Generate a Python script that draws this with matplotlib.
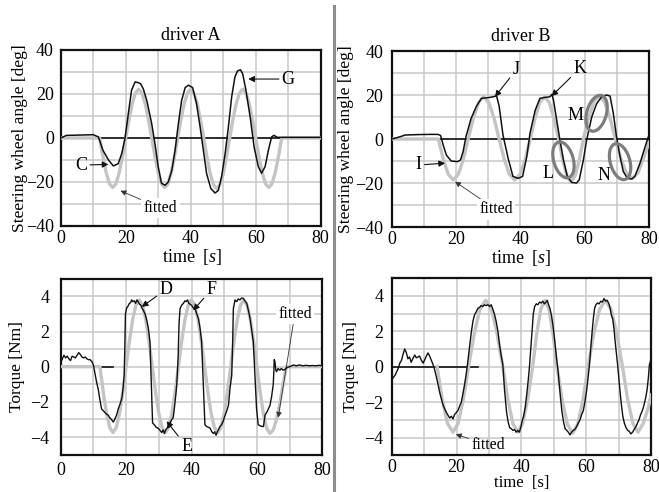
import matplotlib
matplotlib.use('Agg')
import matplotlib.pyplot as plt
from matplotlib.patches import Ellipse
from matplotlib.lines import Line2D

plt.rcParams['font.family'] = 'Liberation Serif'
plt.rcParams['mathtext.fontset'] = 'custom'
plt.rcParams['mathtext.rm'] = 'Liberation Serif'
plt.rcParams['mathtext.it'] = 'Liberation Serif:italic'

BLACK = '#111111'
FIT = '#c4c4c4'
GRID = '#c8c8c8'

# ---- driver A, steering wheel angle [deg]
tA_steer = [0, 1.8, 5, 10, 11.6, 13, 14.7, 16.2, 17.7, 18.8, 19.8, 20.8, 21.8, 22.9, 23.8,
            24.6, 25.4, 26.5, 28, 29, 30, 31, 32.1, 33.1, 34.2, 35.2, 36.2, 37.2, 38.3,
            39.3, 40.6, 41.8, 42.9, 43.9, 44.9, 46.2, 47.5, 48.5, 49.5, 50.6, 51.6, 52.6,
            53.6, 54.4, 55.3, 56, 57, 58.3, 59.5, 60.8, 61.8, 62.9, 63.9, 64.9, 65.6,
            66.7, 80]
vA_steer = [0, 1.2, 1.3, 1.5, 0.5, -5.6, -10, -12.7, -11.7, -7, 0, 11, 21.7, 25.5, 25.2,
            24.6, 22.4, 17, 6.5, -2.6, -13, -20.5, -21.5, -20, -14.7, -5.6, 6.5, 17, 22.9,
            24, 22.9, 15.6, 5, -5.6, -16.2, -23, -25, -23.8, -17.7, -7, 5, 18.6,
            27.7, 30.5, 31, 29.2, 21.7, 9.5, -4, -13, -16, -13, -5.6, 0.5, 1.2,
            0.3, 0.3]

tA_steer_fit = [0] + list(range(12, 69)) + [80]
vA_steer_fit = [0,
                0, -8.5, -15.8, -20.8, -22.5, -20.8, -15.8, -8.5,
                0, 8.4, 15.6, 20.4, 22.2, 20.4, 15.6, 8.4,
                0, -8.5, -15.8, -20.8, -22.5, -20.8, -15.8, -8.5,
                0, 8.4, 15.6, 20.4, 22.2, 20.4, 15.6, 8.4,
                0, -8.7, -16.2, -21.2, -23, -21.2, -16.2, -8.7,
                0, 8.4, 15.6, 20.4, 22.2, 20.4, 15.6, 8.4,
                0, -8.5, -15.8, -20.8, -22.5, -20.8, -15.8, -8.5,
                0, 0]

# ---- driver A, torque [Nm]
tA_torque = [0, 0.5, 1.0, 1.5, 2.0, 2.5, 3.0, 3.5, 4.0, 4.5, 5.0, 5.5, 6.0, 6.5, 7.0, 7.5,
             8.0, 8.5, 9.0, 9.5, 10.0, 10.5, 11.0, 11.5, 12.0, 12.5, 13.0, 13.5, 14.0, 14.5,
             15.0, 15.5, 16.1, 16.5, 17.1, 17.6, 18.2, 18.7, 19.1, 19.4, 19.6, 19.8, 20.2,
             20.6, 21.0, 21.4, 21.7, 22.1, 22.5, 22.9, 23.3, 23.7, 24.1, 24.5, 24.8, 25.3,
             25.8, 26.3, 26.8, 27.3, 27.7, 28.1, 28.6, 29.2, 29.8, 30.3, 30.9, 31.3, 31.7,
             32.1, 32.5, 32.9, 33.4, 34.0, 34.4, 34.8, 35.2, 35.5, 35.9, 36.2, 36.5, 37.0,
             37.5, 38.0, 38.4, 38.8, 39.2, 39.6, 40.0, 40.5, 41.1, 41.6, 42.1, 42.6, 43.1,
             43.6, 44.1, 44.6, 45.2, 45.7, 46.2, 46.7, 47.1, 47.5, 47.9, 48.2, 48.7, 49.2,
             49.7, 50.2, 50.8, 51.3, 51.8, 52.3, 52.6, 52.8, 53.3, 53.8, 54.3, 54.8, 55.3,
             55.8, 56.3, 56.9, 57.4, 57.9, 58.4, 58.9, 59.4, 59.9, 60.4, 60.9, 61.5, 62.0,
             62.3, 62.5, 63.0, 63.5, 64.0, 64.5, 65.0, 65.2, 65.3, 65.5, 65.8, 66.0, 66.5,
             67.0, 67.5, 68.0, 68.6, 69.2, 70.0, 70.6, 71.2, 72.0, 73.0, 74.0, 75.0, 76.0,
             77.0, 78.0, 79.0, 80.0]
vA_torque = [0.2, 0.45, 0.65, 0.5, 0.6, 0.45, 0.35, 0.6, 0.55, 0.5, 0.65, 0.8, 0.7, 0.55,
             0.5, 0.55, 0.45, 0.4, 0.4, 0.3, 0.1, -0.4, -0.9, -1.3, -1.9, -2.4, -2.5, -2.6,
             -2.7, -2.75, -2.9, -3.0, -3.15, -3.0, -2.75, -2.4, -2.1, -1.8, -1.2, -0.5, 1.0,
             3.0, 3.35, 3.45, 3.6, 3.65, 3.8, 3.7, 3.75, 3.6, 3.8, 3.7, 3.55, 3.5, 3.35, 3.2,
             3.0, 2.65, 2.2, 1.4, -1.0, -3.2, -3.3, -3.45, -3.5, -3.6, -3.75, -3.6, -3.8,
             -3.6, -3.5, -3.35, -3.2, -3.0, -2.9, -2.3, -1.6, -1.0, 0.5, 2.5, 3.3, 3.5, 3.6,
             3.75, 3.7, 3.8, 3.6, 3.55, 3.5, 3.35, 3.3, 3.0, 2.75, 2.2, 1.4, -1.0, -3.3,
             -3.4, -3.45, -3.5, -3.7, -3.8, -3.7, -3.9, -3.7, -3.6, -3.4, -3.3, -3.1, -2.8,
             -2.5, -2.2, -1.2, -0.5, 1.5, 3.3, 3.8, 3.7, 3.85, 3.8, 3.9, 3.9, 3.75, 3.6, 3.2,
             2.75, 2.1, 1.4, -0.5, -2.4, -3.3, -3.35, -3.4, -3.4, -3.0, -2.75, -2.6, -2.4,
             -2.2, -1.7, -1.0, -0.2, 0.4, 0.3, -0.2, -0.28, -0.1, -0.2, -0.1, -0.2, -0.15,
             -0.05, 0.0, 0.05, 0.1, 0.05, 0.1, 0.05, 0.08, 0.05, 0.07, 0.05, 0.08, 0.05]

tA_torque_fit = [0] + list(range(11, 70)) + [80]
vA_torque_fit = [0,
                 0, 0, -1.43, -2.65, -3.46, -3.75, -3.46, -2.65, -1.43,
                 0, 1.45, 2.68, 3.5, 3.8, 3.5, 2.68, 1.45,
                 0, -1.43, -2.65, -3.46, -3.75, -3.46, -2.65, -1.43,
                 0, 1.45, 2.68, 3.5, 3.8, 3.5, 2.68, 1.45,
                 0, -1.43, -2.65, -3.46, -3.75, -3.46, -2.65, -1.43,
                 0, 1.45, 2.68, 3.5, 3.8, 3.5, 2.68, 1.45,
                 0, -1.45, -2.7, -3.5, -3.8, -3.6, -3.0, -2.1, -1.0, 0,
                 0]

# ---- driver B, steering wheel angle [deg]
tB_steer = [0, 1.6, 3, 4.1, 8, 12, 14.4, 15.2, 16, 17, 18.5, 20.5, 21.4, 22.2, 23.1, 24.7,
            26.3, 27.9, 30, 31.6, 32.6, 33.4, 34.6, 36.2, 37.7, 39.3, 40.7, 42, 43, 44.6,
            46.1, 48.2, 49.2, 49.8, 50.3, 51.3, 52.3, 53.4, 54.6, 56, 57.5, 58.3, 59.6,
            60.6, 62.2, 63.7, 65.3, 66.8, 67.9, 68.9, 69.9, 71, 72, 73.3, 74.6, 75.6,
            77.2, 78.8, 79.8]
vB_steer = [0, 0.6, 1.2, 1.8, 2.0, 2.1, 2.1, 1.6, -2.7, -7.3, -10, -10.3, -9.5, -5.7, 1.1,
            9.4, 14.7, 18.5, 18.8, 19.2, 19.6, 15, 1.8, -8.8, -17, -17.9, -17, -8, 2.6, 13,
            18.5, 19, 19.2, 20.3, 17.7, 8.6, -0.5, -9.5, -17, -19.8, -20, -18.6, -9.5,
            -0.5, 10, 16, 19.2, 20, 19.5, 11.7, 1, -8, -14.8, -17.9, -18.2, -17,
            -11, -3.5, 1]

tB_steer_fit = [0, 14.5, 16.05, 17.6, 19.15, 20.7, 22.25, 23.8, 25.4, 27.0, 28.6, 30.2,
                31.8, 33.4, 35.0, 36.6, 38.25, 39.9, 41.5, 43.1, 44.6, 46.0, 47.5, 49.0,
                50.4, 51.9, 53.2, 54.5, 55.75, 57.0, 58.3, 59.6, 61.25, 62.9, 64.55,
                66.2, 67.85, 69.5, 71.25, 73.0, 74.75, 76.5, 78.25, 80]
vB_steer_fit = [0, 0, -9.3, -16.1, -18.6, -16.1, -9.3, 0, 9.6, 16.6, 19.2, 16.6,
                9.6, 0, -9.3, -16.1, -18.6, -16.1, -9.3, 0, 9.6, 16.6, 19.2, 16.6,
                9.6, 0, -9.75, -16.9, -19.5, -16.9, -9.75, 0, 9.75, 16.9, 19.5,
                16.9, 9.75, 0, -9, -15.6, -18, -15.6, -9, -1.5]

# ---- driver B, torque [Nm]
tB_torque = [0, 0.5, 1.0, 1.5, 2.0, 2.5, 3.0, 3.5, 4.0, 4.5, 5.0, 5.5, 6.0, 6.5, 7.1, 7.6,
             8.1, 8.6, 9.2, 9.7, 10.2, 10.7, 11.2, 11.7, 12.2, 12.7, 13.3, 13.8, 14.3, 14.8,
             15.3, 15.9, 16.4, 16.9, 17.4, 17.9, 18.4, 18.9, 19.4, 19.9, 20.5, 21.0, 21.5,
             22.0, 22.5, 23.0, 23.5, 24.0, 24.6, 25.1, 25.6, 26.1, 26.6, 27.1, 27.6, 28.1,
             28.6, 29.1, 29.7, 30.2, 30.7, 31.3, 31.8, 32.3, 32.8, 33.3, 33.8, 34.3, 34.8,
             35.4, 35.9, 36.4, 36.9, 37.4, 37.9, 38.4, 38.9, 39.4, 39.8, 40.2, 40.7, 41.2,
             41.7, 42.1, 42.5, 42.9, 43.3, 43.7, 44.1, 44.6, 45.1, 45.6, 46.1, 46.6, 47.1,
             47.6, 48.0, 48.4, 48.8, 49.3, 49.7, 50.1, 50.5, 50.9, 51.3, 51.7, 52.1, 52.5,
             53.0, 53.5, 54.0, 54.5, 55.0, 55.5, 56.0, 56.5, 57.0, 57.5, 58.1, 58.6, 59.1,
             59.6, 60.1, 60.6, 61.0, 61.4, 61.8, 62.2, 62.6, 63.0, 63.5, 64.0, 64.5, 65.0,
             65.5, 66.0, 66.5, 67.0, 67.4, 67.8, 68.2, 68.6, 68.9, 69.3, 69.7, 70.1, 70.5,
             70.9, 71.3, 71.8, 72.3, 72.8, 73.3, 73.8, 74.3, 74.8, 75.3, 75.8, 76.3, 76.8,
             77.3, 77.8, 78.3, 78.8, 79.2, 79.5, 79.8]
vB_torque = [-0.8, -0.6, -0.5, -0.3, -0.1, 0.2, 0.35, 0.7, 1.0, 0.8, 0.45, 0.55, 0.25, 0.45,
             0.66, 0.5, 0.55, 0.6, 0.35, 0.2, 0.4, 0.6, 0.78, 0.6, 0.38, 0.15, -0.2, -0.6,
             -1.0, -1.45, -1.8, -2.2, -2.4, -2.6, -2.75, -2.9, -2.8, -2.95, -2.7, -2.6,
             -2.45, -2.2, -2.0, -1.5, -1.0, -0.4, 0.3, 1.1, 2.0, 2.6, 2.95, 3.1, 3.3, 3.35,
             3.45, 3.4, 3.5, 3.45, 3.5, 3.4, 3.5, 3.2, 2.9, 2.5, 1.95, 1.2, 0.6, 0.1, -1.3,
             -2.5, -3.1, -3.45, -3.5, -3.6, -3.55, -3.7, -3.6, -3.7, -3.45, -3.1, -2.8,
             -2.3, -1.5, -0.8, 0.0, 1.0, 2.0, 3.0, 3.4, 3.55, 3.5, 3.65, 3.6, 3.7, 3.55,
             3.65, 3.75, 3.5, 3.3, 2.9, 2.4, 1.8, 1.1, 0.4, -0.2, -1.0, -1.8, -2.5,
             -3.1, -3.5, -3.6, -3.7, -3.85, -3.7, -3.6, -3.55, -3.4, -3.2, -3.0, -2.7, -2.5,
             -2.0, -1.4, -0.6, 0.1, 1.0, 1.9, 2.7, 3.3, 3.5, 3.6, 3.55, 3.7, 3.65,
             3.85, 3.7, 3.75, 3.55, 3.3, 2.9, 2.7, 2.1, 1.5, 0.8, 0.1, -0.7, -1.5,
             -2.2, -2.8, -3.2, -3.45, -3.6, -3.65, -3.8, -3.7, -3.55, -3.4, -3.2, -3.0, -2.7,
             -2.5, -2.2, -1.8, -1.3, -0.6, 0.1, 0.3]

tB_torque_fit = [14, 15.6, 17.2, 18.9, 20.5, 22.1, 23.7, 25.5, 27.2, 29.0, 30.8, 32.5,
                 34.3, 35.85, 37.35, 38.9, 40.4, 41.95, 43.5, 44.75, 46.0, 47.25, 48.5,
                 49.75, 51.0, 52.6, 54.2, 55.8, 57.4, 59.0, 60.6, 62.35, 64.15, 65.9,
                 67.65, 69.45, 71.2, 72.8, 74.4, 76.0, 77.6, 79.2, 80]
vB_torque_fit = [0, -1.85, -3.2, -3.7, -3.2, -1.85, 0, 1.88, 3.25, 3.75, 3.25, 1.88,
                 0, -1.85, -3.2, -3.7, -3.2, -1.85, 0, 1.88, 3.25, 3.75, 3.25,
                 1.88, 0, -1.88, -3.25, -3.75, -3.25, -1.88, 0, 1.88, 3.25, 3.75,
                 3.25, 1.88, 0, -1.85, -3.2, -3.7, -3.2, -2.3, -1.6]

W, H = 659, 492
fig = plt.figure(figsize=(W / 100, H / 100), dpi=100)


def px_axes(left, top, right, bottom):
    return fig.add_axes([left / W, 1 - bottom / H, (right - left) / W, (bottom - top) / H])


def style(ax, ylim, yminor, ypad, xpad):
    ax.set_xlim(0, 80)
    ax.set_ylim(*ylim)
    ax.set_xticks([0, 20, 40, 60, 80])
    ax.set_xticks(range(0, 81, 10), minor=True)
    ax.set_yticks(yminor, minor=True)
    ax.grid(True, which='both', color=GRID, lw=1.1)
    ax.set_axisbelow(True)
    ax.tick_params(which='both', length=0, labelsize=13)
    ax.tick_params(axis='y', pad=ypad)
    ax.tick_params(axis='x', pad=xpad)
    for s in ax.spines.values():
        s.set_linewidth(1.6)
        s.set_color(BLACK)


arw = dict(arrowstyle='-|>', color=BLACK, lw=0.8, mutation_scale=9, shrinkA=0, shrinkB=0)
arw_fit = dict(arrowstyle='-|>', color='#333333', lw=0.6, mutation_scale=8, shrinkA=0, shrinkB=0)
white = dict(boxstyle='square,pad=0.15', fc='white', ec='none')

# ---------------- top-left
ax = px_axes(60.7, 50, 320.7, 226)
style(ax, (-40, 40), range(-40, 41, 10), 5, 3)
ax.set_yticks([-40, -20, 0, 20, 40])
ax.axhline(0, color=BLACK, lw=1.2, zorder=2)
ax.plot(tA_steer_fit, vA_steer_fit, color=FIT, lw=2.4, zorder=3)
ax.plot(tA_steer, vA_steer, color=BLACK, lw=1.1, zorder=4)
ax.set_title('driver A', fontsize=13, pad=7)
ax.set_ylabel('Steering wheel angle [deg]', fontsize=12.5)
ax.yaxis.set_label_coords(-0.126, 0.5)
ax.set_xlabel(r'time  [$\mathit{s}$]', fontsize=13)
ax.xaxis.set_label_coords(0.505, -0.118)
ax.annotate('G', xy=(57.7, 26.8), xytext=(68, 26.8), fontsize=13, va='center', arrowprops=arw)
ax.annotate('C', xy=(14.7, -12), xytext=(4.5, -12.3), fontsize=13, va='center', arrowprops=arw)
ax.annotate('fitted', xy=(18.4, -24), xytext=(30.7, -31.8), fontsize=11.5, va='center',
            ha='center', bbox=white, arrowprops=arw_fit)

# ---------------- top-right
ax = px_axes(391.7, 51, 649, 227)
style(ax, (-40, 40), range(-40, 41, 10), 6, 3)
ax.set_yticks([-40, -20, 0, 20, 40])
ax.axhline(0, color=BLACK, lw=1.2, zorder=2)
ax.plot(tB_steer_fit, vB_steer_fit, color=FIT, lw=2.4, zorder=3)
ax.plot(tB_steer, vB_steer, color=BLACK, lw=1.1, zorder=4)
ax.set_title('driver B', fontsize=13, pad=7)
ax.set_ylabel('Steering wheel angle [deg]', fontsize=12.5)
ax.yaxis.set_label_coords(-0.148, 0.5)
ax.set_xlabel(r'time  [$\mathit{s}$]', fontsize=13)
ax.xaxis.set_label_coords(0.505, -0.122)
for cx, cy, ang in [(53.4, -9.5, 9), (63.7, 11.7, -9), (71, -10.3, 9)]:
    ax.add_patch(Ellipse((cx, cy), 6.2, 16.5, angle=ang, fill=False, ec='#7d7d7d', lw=2.3, zorder=5))
ax.text(57, 10.9, 'M', fontsize=13, ha='center', va='center')
ax.text(48.7, -15.6, 'L', fontsize=13, ha='center', va='center')
ax.text(66.1, -16.4, 'N', fontsize=13, ha='center', va='center')
ax.annotate('J', xy=(32.1, 19.2), xytext=(37.6, 31.4), fontsize=13, va='center', arrowprops=arw)
ax.annotate('K', xy=(49.7, 19.5), xytext=(56.5, 32.1), fontsize=13, va='center', arrowprops=arw)
ax.annotate('I', xy=(16.6, -11), xytext=(7.5, -11.8), fontsize=13, va='center', arrowprops=arw)
ax.annotate('fitted', xy=(19.7, -19.4), xytext=(32.4, -32), fontsize=11.5, va='center',
            ha='center', bbox=white, arrowprops=arw_fit)

# ---------------- bottom-left
ax = px_axes(60.7, 278.8, 322.3, 454.6)
style(ax, (-5, 5), range(-5, 6), 8, 5)
ax.set_yticks([-4, -2, 0, 2, 4])
ax.plot([0, 16], [0, 0], color=BLACK, lw=1.2, zorder=2)
ax.plot(tA_torque_fit, vA_torque_fit, color=FIT, lw=2.4, zorder=3)
ax.plot(tA_torque, vA_torque, color=BLACK, lw=1.0, zorder=4)
ax.set_ylabel('Torque [Nm]', fontsize=12.5)
ax.yaxis.set_label_coords(-0.135, 0.5)
ax.annotate('D', xy=(24.8, 3.4), xytext=(30.2, 4.4), fontsize=13, va='center', arrowprops=arw)
ax.annotate('F', xy=(40.5, 3.2), xytext=(44.6, 4.4), fontsize=13, va='center', arrowprops=arw)
ax.annotate('E', xy=(32.4, -3.1), xytext=(36.8, -4.55), fontsize=13, va='center', arrowprops=arw)
ax.annotate('fitted', xy=(66.5, -2.9), xytext=(71.6, 3.0), fontsize=11.5, va='center',
            ha='center', bbox=white, arrowprops=arw_fit)

# ---------------- bottom-right
ax = px_axes(391.7, 278.2, 651, 455.2)
style(ax, (-5, 5), range(-5, 6), 6, 3)
ax.set_yticks([-4, -2, 0, 2, 4])
ax.plot([0, 26.7], [0, 0], color=BLACK, lw=1.2, zorder=2)
ax.plot(tB_torque_fit, vB_torque_fit, color=FIT, lw=2.4, zorder=3)
ax.plot(tB_torque, vB_torque, color=BLACK, lw=1.0, zorder=4)
ax.set_ylabel('Torque [Nm]', fontsize=12.5)
ax.yaxis.set_label_coords(-0.128, 0.5)
ax.set_xlabel('time  [s]', fontsize=12)
ax.xaxis.set_label_coords(0.5, -0.113)
ax.annotate('fitted', xy=(19.8, -3.82), xytext=(29.8, -4.42), fontsize=11.5, va='center',
            ha='center', arrowprops=arw_fit)

# divider between the two drivers
fig.add_artist(Line2D([334 / W, 334 / W], [1 - 6 / H, 1 - 490 / H], color='#8c8c8c', lw=2.2))

fig.savefig('out.png', dpi=100)
